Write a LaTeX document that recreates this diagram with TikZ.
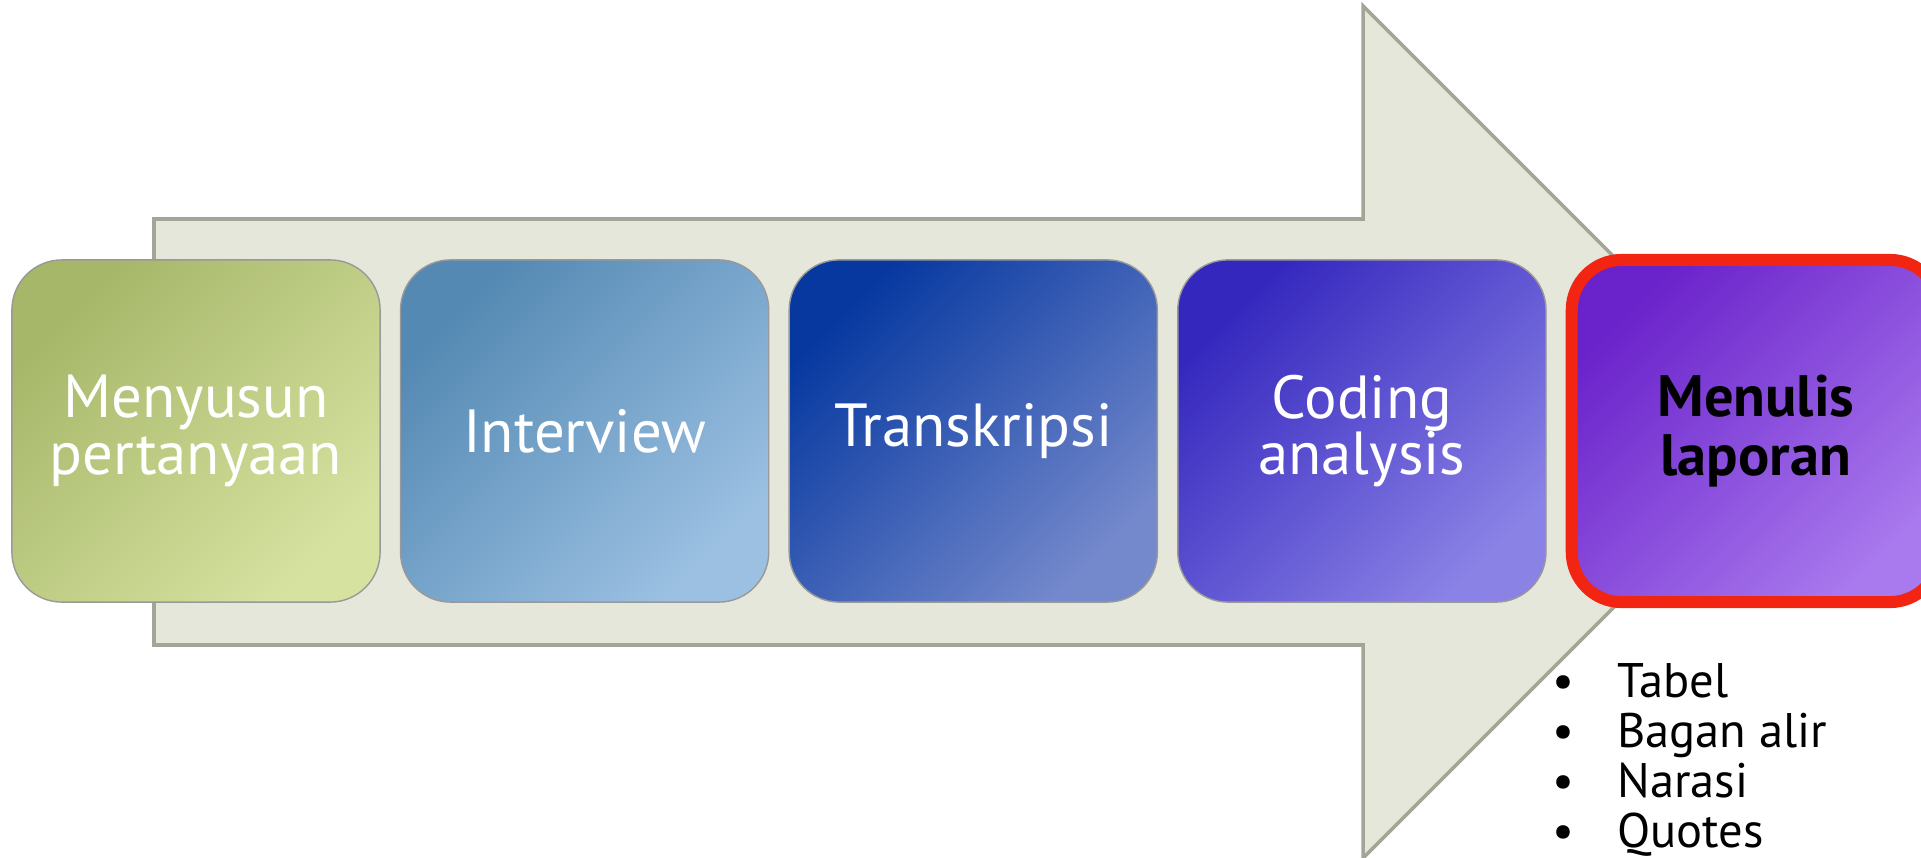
\documentclass[tikz,border=0pt]{standalone}
\usepackage{fontspec}
\setmainfont{PT Sans}
\usetikzlibrary{positioning}
\definecolor{arrowfill}{HTML}{E5E7DB}
\definecolor{arrowline}{HTML}{A3A597}
\definecolor{greenA}{HTML}{A6B769}
\definecolor{greenB}{HTML}{D6E2A0}
\definecolor{blueA}{HTML}{5489B3}
\definecolor{blueB}{HTML}{9BC0E2}
\definecolor{navyA}{HTML}{0638A0}
\definecolor{navyB}{HTML}{7489CC}
\definecolor{indigoA}{HTML}{3427BE}
\definecolor{indigoB}{HTML}{8B82E6}
\definecolor{violetA}{HTML}{6A22CA}
\definecolor{violetB}{HTML}{A979EE}
\definecolor{redline}{HTML}{F22412}
\begin{document}
\begin{tikzpicture}[x=0.01cm,y=-0.01cm,
  stepbox/.style 2 args={rounded corners=0.5cm,minimum width=3.68cm,minimum height=3.42cm,
    align=center,text=white,font=\fontsize{17.3}{16}\selectfont,draw=black!40,
    top color=#1,bottom color=#2,shading angle=45}]
\useasboundingbox (0,0) rectangle (1921,858);
%\draw[help lines] (0,0) grid[step=100] (1921,858);
\draw[fill=arrowfill,draw=arrowline,line width=1pt] (154,219)--(1363,219)--(1363,6)--(1789,432)--(1363,858)--(1363,645)--(154,645)--cycle;
\node[stepbox={greenA}{greenB}] (susun) at (196,431) {Menyusun\\pertanyaan};
\node[stepbox={blueA}{blueB},right=0.19cm of susun] (interview) {Interview};
\node[stepbox={navyA}{navyB},right=0.19cm of interview] (transkripsi) {Transkripsi};
\node[stepbox={indigoA}{indigoB},right=0.19cm of transkripsi] (coding) {Coding\\analysis};
\node[stepbox={violetA}{violetB},right=0.19cm of coding,draw=redline,line width=1.2mm,
  text=black,font=\bfseries\fontsize{16.6}{16.8}\selectfont] (laporan) {Menulis\\laporan};
\node[below=0.55cm of laporan.south west,anchor=north west,xshift=-0.14cm,inner sep=0pt,align=left,
  font=\fontsize{13.8}{14.2}\selectfont] (daftar)
  {\makebox[0.65cm][l]{\textbullet}Tabel\\ \makebox[0.65cm][l]{\textbullet}Bagan alir\\
   \makebox[0.65cm][l]{\textbullet}Narasi\\ \makebox[0.65cm][l]{\textbullet}Quotes};
\end{tikzpicture}
\end{document}
